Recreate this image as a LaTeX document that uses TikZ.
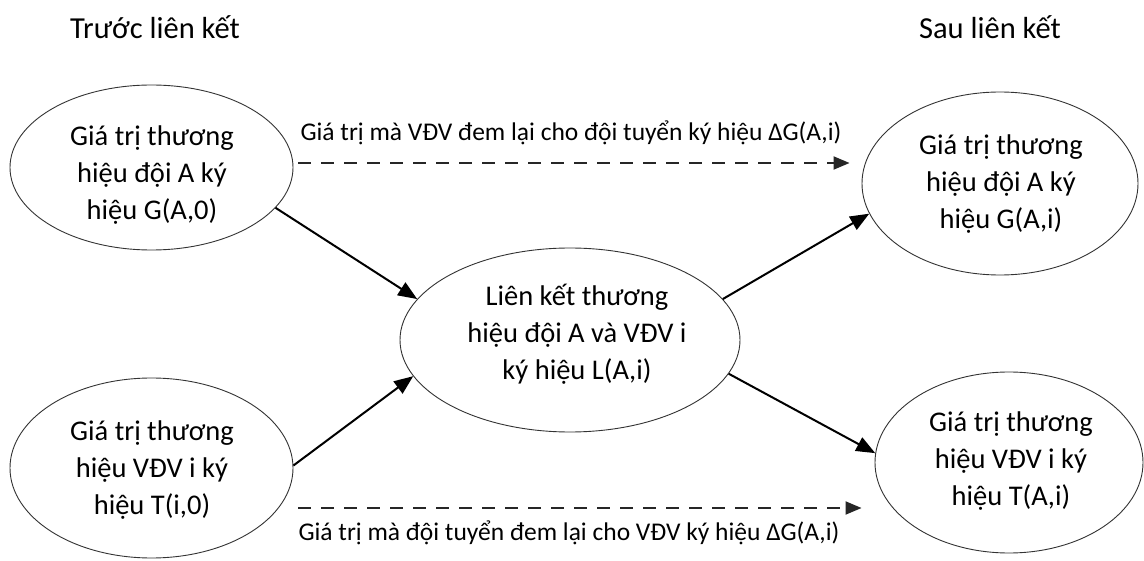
\documentclass[tikz,border=0pt]{standalone}
\usepackage{fontspec}
\setmainfont{Carlito}
\usetikzlibrary{shapes.geometric,arrows.meta}
\tikzset{
  oval/.style={ellipse, draw=black!80, line width=0.9pt, inner sep=0pt},
  ovaltext/.style={align=center, inner sep=0pt, font=\fontsize{28.5}{37}\selectfont},
  header/.style={inner sep=0pt, font=\fontsize{30.5}{35}\selectfont},
  dashlabel/.style={inner sep=0pt, font=\fontsize{25.5}{30}\selectfont},
  flow/.style={line width=2pt, -{Triangle[length=19pt,width=15pt]}},
  dasharrow/.style={draw=black!85, line width=1.9pt, dash pattern=on 13pt off 10pt, -{Triangle[length=16pt,width=13pt]}}
}
\begin{document}
\begin{tikzpicture}[x=1pt,y=-1pt]
\useasboundingbox[fill=white] (0,0) rectangle (1144,561);
% headers
\node[header] (h1) at (155,27) {Trước liên kết};
\node[header] (h2) at (990,27) {Sau liên kết};
% ellipses
\node[oval, minimum width=283pt, minimum height=165pt] (tl) at (151.5,167.5) {};
\node[oval, minimum width=283pt, minimum height=180pt] (bl) at (151.5,468) {};
\node[oval, minimum width=340pt, minimum height=184pt] (c) at (570,340) {};
\node[oval, minimum width=276pt, minimum height=183pt] (tr) at (1000,183.5) {};
\node[oval, minimum width=268pt, minimum height=181pt] (br) at (1009,462.5) {};
% texts
\node[ovaltext] (tlt) at (152,175) {Giá trị thương\\hiệu đội A ký\\hiệu G(A,0)};
\node[ovaltext] (blt) at (152,470) {Giá trị thương\\hiệu VĐV i ký\\hiệu T(i,0)};
\node[ovaltext] (ct) at (577,334) {Liên kết thương\\hiệu đội A và VĐV i\\ký hiệu L(A,i)};
\node[ovaltext] (trt) at (1001,184) {Giá trị thương\\hiệu đội A ký\\hiệu G(A,i)};
\node[ovaltext] (brt) at (1011,461) {Giá trị thương\\hiệu VĐV i ký\\hiệu T(A,i)};
% solid arrows
\draw[flow] (tl.-18.7) -- (c.165.1);
\draw[flow] (bl.1.2) -- (c.193.8);
\draw[flow] (c.15.1) -- (tr.193.3);
\draw[flow] (c.-12.5) -- (br.176);
% dashed arrows
\draw[dasharrow, shorten >=12pt] ([xshift=5pt,yshift=4.5pt]tl.east) -- ([yshift=4.5pt]tl.east -| tr.west);
\coordinate (d2s) at (298,508);
\draw[dasharrow, shorten >=13pt] (d2s) -- (d2s -| br.west);
% dashed labels
\node[dashlabel] (l1) at (571,133) {Giá trị mà VĐV đem lại cho đội tuyển ký hiệu ΔG(A,i)};
\node[dashlabel] (l2) at (569,533) {Giá trị mà đội tuyển đem lại cho VĐV ký hiệu ΔG(A,i)};
\end{tikzpicture}
\end{document}
